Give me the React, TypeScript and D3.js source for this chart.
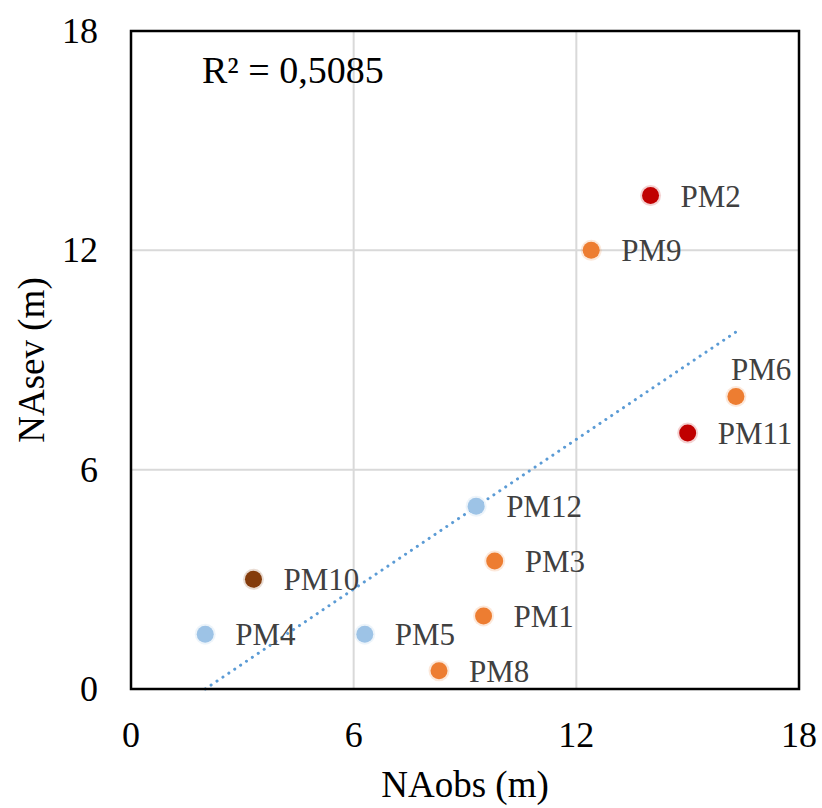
import React from "react";
import * as d3 from "d3";

const names = ["PM1", "PM2", "PM3", "PM4", "PM5", "PM6", "PM8", "PM9", "PM10", "PM11", "PM12"];
const naObs = [9.5, 14.0, 9.8, 2.0, 6.3, 16.3, 8.3, 12.4, 3.3, 15.0, 9.3];
const naSev = [2.0, 13.5, 3.5, 1.5, 1.5, 8.0, 0.5, 12.0, 3.0, 7.0, 5.0];
const groups = ["orange", "red", "orange", "blue", "blue", "orange", "orange", "orange", "brown", "red", "blue"];
const labelPos = ["right", "right", "right", "right", "right", "above", "right", "right", "right", "right", "right"];
const ticks = [0, 6, 12, 18];
const r2Label = "R² = 0,5085";
const xTitle = "NAobs (m)";
const yTitle = "NAsev (m)";

const colors: Record<string, string> = {
  orange: "#ED7D31",
  red: "#C00000",
  brown: "#843C0C",
  blue: "#9DC3E6",
};

const W = 822;
const H = 808;
const left = 131, right = 799, top = 31, bottom = 689;
const font = "'Liberation Serif', 'Times New Roman', serif";

export default function App() {
  const x = d3.scaleLinear().domain([0, 18]).range([left, right]);
  const y = d3.scaleLinear().domain([0, 18]).range([bottom, top]);

  const pts = names.map((n, i) => ({ n, x: naObs[i], y: naSev[i], g: groups[i], lp: labelPos[i] }));

  // linear regression trendline
  const mx = d3.mean(naObs)!;
  const my = d3.mean(naSev)!;
  let sxy = 0, sxx = 0;
  naObs.forEach((v, i) => {
    sxy += (v - mx) * (naSev[i] - my);
    sxx += (v - mx) * (v - mx);
  });
  const slope = sxy / sxx;
  const intercept = my - slope * mx;
  const [x0, x1] = d3.extent(naObs) as [number, number];
  const line = d3.line<[number, number]>().x((d) => x(d[0])).y((d) => y(d[1]));
  const trend = line([[x0, slope * x0 + intercept], [x1, slope * x1 + intercept]]);

  return (
    <svg width={W} height={H} style={{ position: "absolute", left: 0, top: 0, background: "#fff" }}>
      <rect x={0} y={0} width={W} height={H} fill="#fff" />
      {/* gridlines */}
      {ticks.filter((t) => t > 0 && t < 18).map((t) => (
        <g key={"g" + t}>
          <line x1={x(t)} x2={x(t)} y1={top} y2={bottom} stroke="#d9d9d9" strokeWidth={2} />
          <line x1={left} x2={right} y1={y(t)} y2={y(t)} stroke="#d9d9d9" strokeWidth={2} />
        </g>
      ))}
      {/* trendline */}
      <path d={trend || ""} fill="none" stroke="#5B9BD5" strokeWidth={3} strokeDasharray="0.1 7" strokeLinecap="round" />
      {/* points */}
      {pts.map((p) => (
        <g key={p.n}>
          <circle cx={x(p.x)} cy={y(p.y)} r={10.5} fill={colors[p.g]} opacity={0.18} />
          <circle cx={x(p.x)} cy={y(p.y)} r={8.5} fill={colors[p.g]} />
        </g>
      ))}
      {/* labels */}
      {pts.map((p) =>
        p.lp === "above" ? (
          <text key={"l" + p.n} x={x(p.x) - 5} y={y(p.y) - 17} fontFamily={font} fontSize={31} fill="#404040">
            {p.n}
          </text>
        ) : (
          <text key={"l" + p.n} x={x(p.x) + 30} y={y(p.y) + 11} fontFamily={font} fontSize={31} fill="#404040">
            {p.n}
          </text>
        )
      )}
      {/* frame */}
      <rect x={left} y={top} width={right - left} height={bottom - top} fill="none" stroke="#000" strokeWidth={2.5} />
      {/* tick labels */}
      {ticks.map((t) => (
        <text key={"xt" + t} x={x(t)} y={747} textAnchor="middle" fontFamily={font} fontSize={36} fill="#000">
          {t}
        </text>
      ))}
      {ticks.map((t) => (
        <text key={"yt" + t} x={98} y={y(t) + 12} textAnchor="end" fontFamily={font} fontSize={36} fill="#000">
          {t}
        </text>
      ))}
      {/* R2 */}
      <text x={202} y={83} fontFamily={font} fontSize={38} fill="#000">
        {r2Label}
      </text>
      {/* axis titles */}
      <text x={(left + right) / 2} y={797} textAnchor="middle" fontFamily={font} fontSize={37} fill="#000">
        {xTitle}
      </text>
      <text
        transform={`translate(44, ${(top + bottom) / 2}) rotate(-90)`}
        textAnchor="middle"
        fontFamily={font}
        fontSize={37}
        fill="#000"
      >
        {yTitle}
      </text>
    </svg>
  );
}
